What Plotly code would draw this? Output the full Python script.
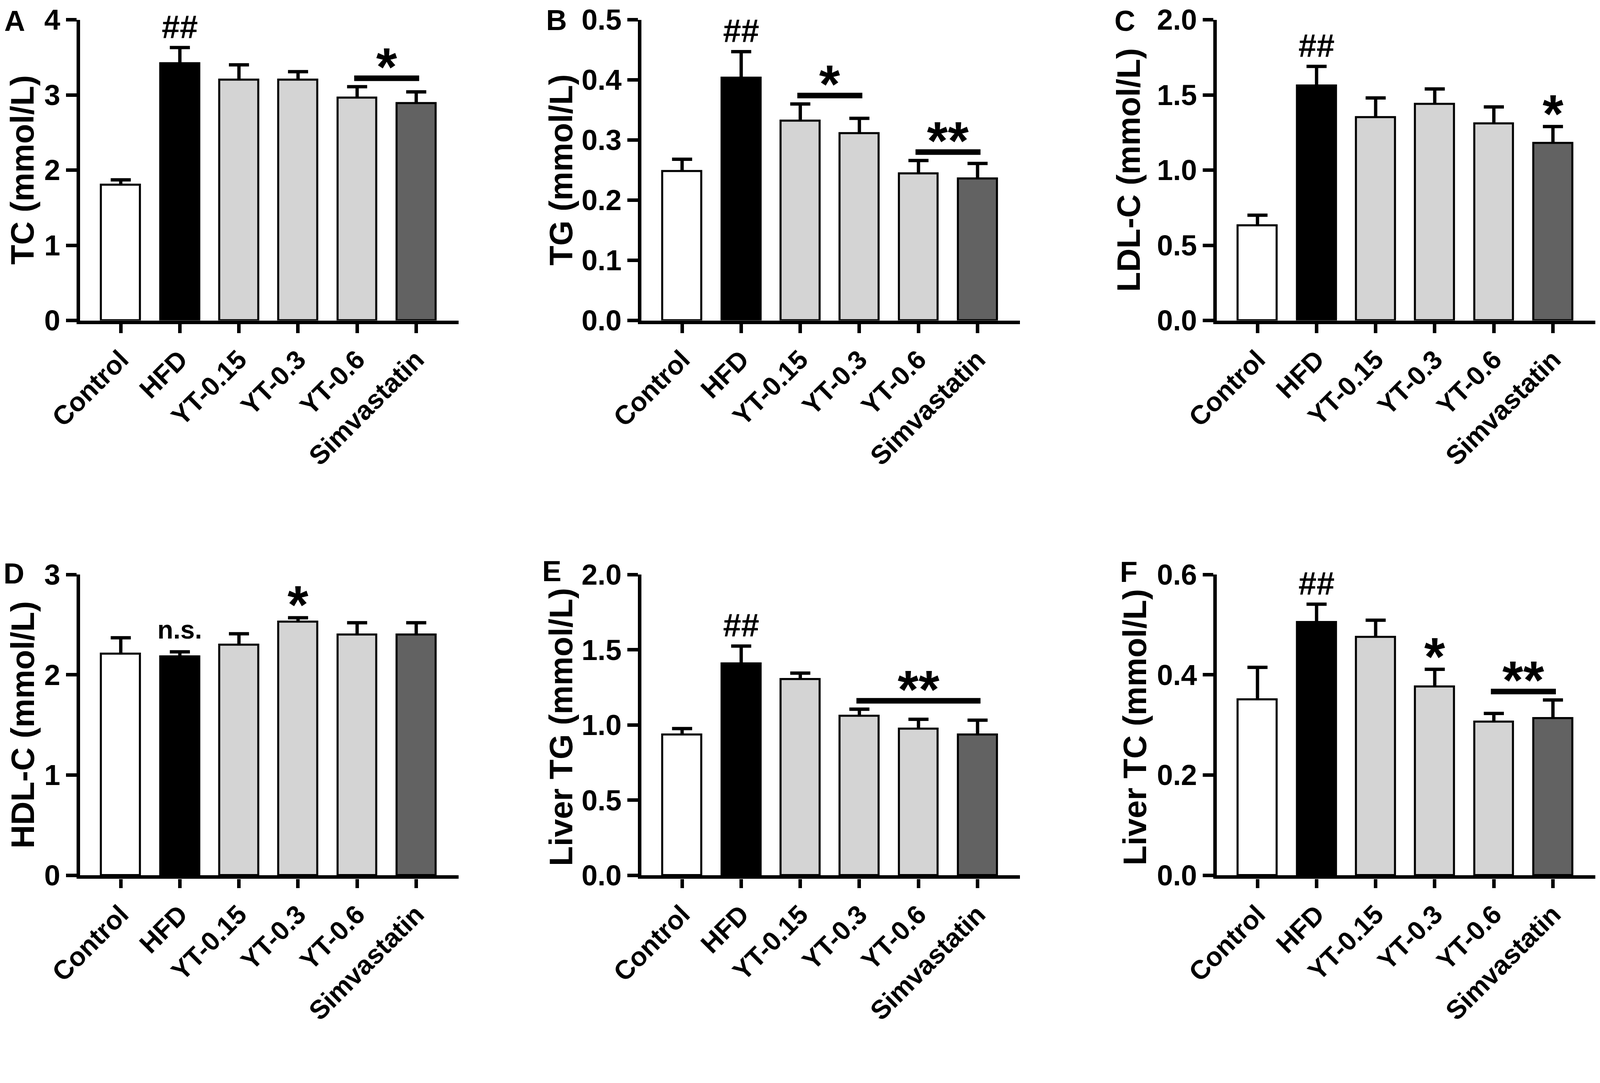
import plotly.graph_objects as go

# reference picture size, and the scale from it to css pixels of the page
REF_W, REF_H = 4317, 2773
S = 0.946
W, H = round(REF_W * S), round(REF_H * S)

groups = ["Control", "HFD", "YT-0.15", "YT-0.3", "YT-0.6", "Simvastatin"]
fill_colors = ["#ffffff", "#000000", "#d4d4d4", "#d4d4d4", "#d4d4d4", "#626262"]

tc_mean = [1.80, 3.42, 3.20, 3.20, 2.96, 2.89]
tc_sem = [0.07, 0.21, 0.20, 0.11, 0.15, 0.15]
tg_mean = [0.248, 0.403, 0.332, 0.311, 0.244, 0.236]
tg_sem = [0.020, 0.044, 0.028, 0.025, 0.022, 0.025]
ldl_mean = [0.63, 1.56, 1.35, 1.44, 1.31, 1.18]
ldl_sem = [0.07, 0.13, 0.13, 0.10, 0.11, 0.11]
hdl_mean = [2.21, 2.18, 2.30, 2.53, 2.40, 2.40]
hdl_sem = [0.16, 0.05, 0.11, 0.04, 0.12, 0.12]
liver_tg_mean = [0.935, 1.407, 1.304, 1.061, 0.974, 0.935]
liver_tg_sem = [0.041, 0.118, 0.041, 0.044, 0.064, 0.097]
liver_tc_mean = [0.351, 0.505, 0.475, 0.376, 0.306, 0.313]
liver_tc_sem = [0.064, 0.036, 0.034, 0.035, 0.017, 0.037]

# significance marks: (text, first group, last group); a line joins groups when they differ
tc_marks = [("##", 1, 1), ("*", 4, 5)]
tg_marks = [("##", 1, 1), ("*", 2, 3), ("**", 4, 5)]
ldl_marks = [("##", 1, 1), ("*", 5, 5)]
hdl_marks = [("n.s.", 1, 1), ("*", 3, 3)]
liver_tg_marks = [("##", 1, 1), ("**", 3, 5)]
liver_tc_marks = [("##", 1, 1), ("*", 3, 3), ("**", 4, 5)]

panels = [
    dict(letter="A", title="TC (mmol/L)", mean=tc_mean, sem=tc_sem, ymax=4, dtick=1, fmt="", marks=tc_marks),
    dict(letter="B", title="TG (mmol/L)", mean=tg_mean, sem=tg_sem, ymax=0.5, dtick=0.1, fmt=".1f", marks=tg_marks),
    dict(letter="C", title="LDL-C (mmol/L)", mean=ldl_mean, sem=ldl_sem, ymax=2, dtick=0.5, fmt=".1f", marks=ldl_marks),
    dict(letter="D", title="HDL-C (mmol/L)", mean=hdl_mean, sem=hdl_sem, ymax=3, dtick=1, fmt="", marks=hdl_marks),
    dict(letter="E", title="Liver TG (mmol/L)", mean=liver_tg_mean, sem=liver_tg_sem, ymax=2, dtick=0.5, fmt=".1f", marks=liver_tg_marks),
    dict(letter="F", title="Liver TC (mmol/L)", mean=liver_tc_mean, sem=liver_tc_sem, ymax=0.6, dtick=0.2, fmt=".1f", marks=liver_tc_marks),
]

# layout, in pixels of the reference picture
col_left = [208, 1727, 3284]
row_top = [45, 1547]
plot_w, plot_h = 1025, 814
title_pos = [(52, 452), (1510, 452), (3046, 452), (53, 1954), (1510, 1960), (3063, 1960)]
# top-left corner of each panel letter's glyph
letter_pos = [(2, 18), (1468, 16), (3006, 18), (0, 1514), (1458, 1508), (3021, 1510)]


def px(v):
    return v * S


FONT = "Liberation Sans"
BOLD = dict(family=FONT, color="black", weight="bold")
ASCENT, DESCENT, CAP = 0.905, 0.212, 0.716
mark_style = {
    "##": dict(size=88, glyph=0.0),
    "*": dict(size=145, glyph=0.28),
    "**": dict(size=145, glyph=0.28),
    "n.s.": dict(size=70, glyph=0.0),
}
cap_half = 0.17  # half width of an error bar cap, in category units

fig = go.Figure()
annotations = []
x_pos = list(range(len(groups)))

for k, p in enumerate(panels):
    n = k + 1
    r, c = divmod(k, 3)
    xr, yr = f"x{n}", f"y{n}"
    left, top = col_left[c], row_top[r]

    fig.add_trace(go.Bar(
        x=x_pos, y=p["mean"], width=0.66,
        marker=dict(color=fill_colors, line=dict(color="black", width=px(5.5))),
        xaxis=xr, yaxis=yr, showlegend=False, hoverinfo="skip",
    ))

    # mean + SEM whiskers (upper side only, as in the original)
    ex, ey = [], []
    for i, (m, s) in enumerate(zip(p["mean"], p["sem"])):
        ex += [i, i, None, i - cap_half, i + cap_half, None]
        ey += [m, m + s, None, m + s, m + s, None]
    fig.add_trace(go.Scatter(
        x=ex, y=ey, mode="lines", line=dict(color="black", width=px(9)),
        xaxis=xr, yaxis=yr, showlegend=False, hoverinfo="skip",
    ))

    fig.layout[f"xaxis{n}"] = dict(
        domain=[left / REF_W, (left + plot_w) / REF_W], anchor=yr, range=[-0.69, 5.72],
        tickvals=x_pos, ticktext=groups, tickangle=-45,
        showline=True, linewidth=px(10), linecolor="black",
        ticks="outside", ticklen=px(25), tickwidth=px(10), tickcolor="black",
        showgrid=False, zeroline=False, automargin=False,
        tickfont=dict(size=px(72), **BOLD),
    )
    fig.layout[f"yaxis{n}"] = dict(
        domain=[1 - (top + plot_h) / REF_H, 1 - top / REF_H], anchor=xr, range=[0, p["ymax"]],
        dtick=p["dtick"], tickformat=p["fmt"], ticklabeloverflow="allow",
        showline=True, linewidth=px(10), linecolor="black",
        ticks="outside", ticklen=px(28), tickwidth=px(10), tickcolor="black",
        showgrid=False, zeroline=False, automargin=False,
        tickfont=dict(size=px(78), **BOLD),
    )

    tx, ty = title_pos[k]
    annotations.append(dict(
        text=p["title"], x=tx / REF_W, y=1 - ty / REF_H, xref="paper", yref="paper",
        xanchor="center", yanchor="middle", textangle=-90, showarrow=False,
        font=dict(size=px(88), **BOLD),
    ))
    lx, ly = letter_pos[k]
    letter_size = 78
    annotations.append(dict(
        text=p["letter"], x=lx / REF_W, y=1 - (ly - (ASCENT - CAP) * letter_size) / REF_H,
        xref="paper", yref="paper",
        xanchor="left", yanchor="top", showarrow=False, borderpad=0,
        font=dict(size=px(letter_size), **BOLD),
    ))

    for text, i, j in p["marks"]:
        st = mark_style[text]
        tops = [m + s for m, s in zip(p["mean"][i:j + 1], p["sem"][i:j + 1])]
        if i == j:
            base = tops[0]
            gap = 24 if text != "n.s." else 35
        else:
            base = max(tops) + 0.028 * p["ymax"]
            fig.add_shape(type="line", xref=xr, yref=yr, x0=i - 0.05, x1=j + 0.05, y0=base, y1=base,
                          line=dict(color="black", width=px(15)))
            gap = 20
        annotations.append(dict(
            text=text, x=(i + j) / 2, y=base, xref=xr, yref=yr,
            xanchor="center", yanchor="bottom", showarrow=False, borderpad=0,
            yshift=px(gap - (st["glyph"] + DESCENT) * st["size"]),
            font=dict(size=px(st["size"]), **BOLD),
        ))

fig.update_layout(
    width=W, height=H, template="none",
    margin=dict(l=0, r=0, t=0, b=0),
    paper_bgcolor="white", plot_bgcolor="white",
    annotations=annotations, bargap=0,
)

fig.write_html("out.html")
